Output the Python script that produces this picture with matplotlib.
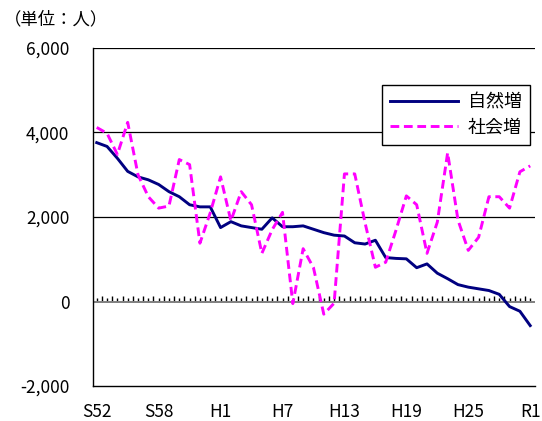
import numpy as np
import matplotlib
matplotlib.use("Agg")
import matplotlib.pyplot as plt
from matplotlib.ticker import FuncFormatter, FixedLocator

plt.rcParams['font.family'] = ['Noto Sans CJK JP', 'DejaVu Sans']

# ======================== data
years = ["S52", "S53", "S54", "S55", "S56", "S57", "S58", "S59", "S60", "S61",
         "S62", "S63", "H1", "H2", "H3", "H4", "H5", "H6", "H7", "H8",
         "H9", "H10", "H11", "H12", "H13", "H14", "H15", "H16", "H17", "H18",
         "H19", "H20", "H21", "H22", "H23", "H24", "H25", "H26", "H27", "H28",
         "H29", "H30", "R1"]
natural = [3760, 3670, 3390, 3080, 2950, 2880, 2770, 2600, 2480, 2290,
           2240, 2240, 1750, 1890, 1790, 1750, 1710, 1980, 1770, 1770,
           1790, 1710, 1630, 1570, 1550, 1390, 1360, 1450, 1040, 1020,
           1010, 800, 890, 670, 540, 400, 340, 300, 260, 170,
           -120, -230, -570]
social = [4120, 3980, 3480, 4240, 3000, 2480, 2210, 2260, 3360, 3240,
          1380, 2100, 2950, 1910, 2600, 2290, 1140, 1700, 2110, -50,
          1250, 800, -300, -40, 3020, 3020, 1860, 810, 930, 1690,
          2500, 2290, 1140, 1880, 3520, 1930, 1210, 1520, 2480, 2480,
          2210, 3070, 3210]
shown_labels = ["S52", "S58", "H1", "H7", "H13", "H19", "H25", "R1"]
yticks = [-2000, 0, 2000, 4000, 6000]

# ======================== figure
fig = plt.figure(figsize=(5.42, 4.21), dpi=100)
ax = fig.add_axes([0.1716, 0.0831, 0.8154, 0.8029])

x = np.arange(len(years))
ax.plot(x, natural, color="#000080", lw=2.1, label="自然増", zorder=3)
ax.plot(x, social, color="#FF00FF", lw=2.1, ls=(0, (3.0, 1.6)), label="社会増", zorder=3)

ax.set_xlim(-0.36, len(years) - 1 + 0.46)
ax.set_ylim(-2000, 6000)

# grid lines
for v in [2000, 4000, 6000]:
    ax.axhline(v, color="black", lw=0.9, zorder=1)
ax.axhline(0, color="#808080", lw=1.4, zorder=2)

for s in ["top", "right"]:
    ax.spines[s].set_visible(False)
ax.spines["left"].set_linewidth(1.0)
ax.spines["bottom"].set_linewidth(1.0)

ax.set_yticks(yticks)
ax.yaxis.set_major_formatter(FuncFormatter(lambda v, p: f"{int(v):,}"))
ax.tick_params(axis="y", length=0, pad=17, labelsize=12.5)

ax.set_xticks([years.index(l) for l in shown_labels])
ax.set_xticklabels(shown_labels)
ax.tick_params(axis="x", length=0, pad=12, labelsize=12.5)

# tick marks along the zero line
zax = ax.secondary_xaxis(0.25)
zax.spines["bottom"].set_visible(False)
zax.xaxis.set_major_locator(FixedLocator(np.arange(len(years) + 1) - 0.5))
zax.xaxis.set_minor_locator(FixedLocator(x))
zax.tick_params(which="major", direction="in", length=4.4, width=1.0, labelbottom=False, color="black")
zax.tick_params(which="minor", direction="in", length=2.8, width=1.0, labelbottom=False, color="black")

leg = ax.legend(loc="upper right", bbox_to_anchor=(0.988, 0.89), fontsize=13,
                handlelength=3.8, frameon=True, fancybox=False, borderpad=0.45,
                labelspacing=0.4, handletextpad=0.5, borderaxespad=0)
leg.get_frame().set_edgecolor("black")
leg.get_frame().set_linewidth(1.0)
leg.get_frame().set_alpha(1)
leg.set_zorder(5)

fig.text(0.008, 0.955, "（単位：人）", fontsize=12.5, ha="left", va="center")

plt.savefig("out.png", dpi=100)
